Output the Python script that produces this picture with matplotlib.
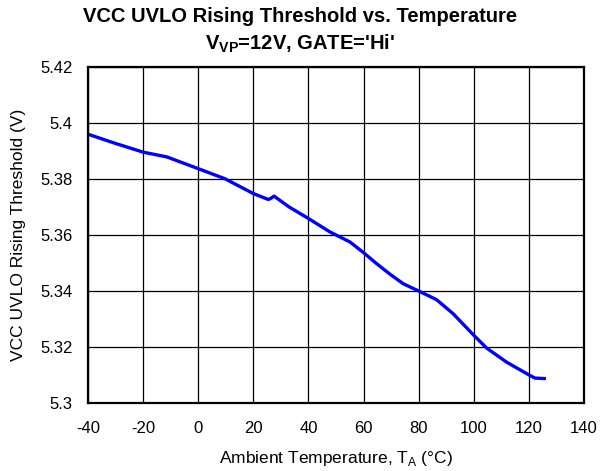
import numpy as np
import matplotlib.pyplot as plt

plt.rcParams['font.family'] = ['Liberation Sans', 'DejaVu Sans']
plt.rcParams['mathtext.fontset'] = 'custom'
plt.rcParams['mathtext.rm'] = 'Liberation Sans'
plt.rcParams['mathtext.bf'] = 'Liberation Sans:bold'
plt.rcParams['axes.unicode_minus'] = False

# UVLO rising threshold measured over temperature
temp_c = [-40, -30, -20, -11.4, 0, 9.7, 20, 25.4, 26.2, 27.5, 33, 40, 47.8,
          55.1, 60, 64.7, 69.6, 74.4, 80, 86.5, 92.5, 100, 104.7, 111.9,
          119.9, 122.2, 126.2]
threshold_v = [5.3960, 5.3927, 5.3896, 5.3879, 5.3837, 5.3801, 5.3748, 5.3727,
               5.3730, 5.3739, 5.3700, 5.3659, 5.3611, 5.3575, 5.3537, 5.3498,
               5.3460, 5.3426, 5.3400, 5.3369, 5.3319, 5.3242, 5.3196, 5.3146,
               5.3101, 5.3089, 5.3087]

x_ticks = np.arange(-40, 141, 20)
y_ticks = [5.30, 5.32, 5.34, 5.36, 5.38, 5.40, 5.42]
y_tick_labels = ['5.3', '5.32', '5.34', '5.36', '5.38', '5.4', '5.42']

fig = plt.figure(figsize=(6.0, 4.71), dpi=100)
ax = fig.add_axes([0.1467, 0.1444, 0.8266, 0.7133])

ax.plot(temp_c, threshold_v, color='#0000ff', linewidth=2.4,
        solid_capstyle='butt', solid_joinstyle='round')

ax.set_xlim(-40, 140)
ax.set_ylim(5.30, 5.42)
ax.set_xticks(x_ticks)
ax.set_yticks(y_ticks)
ax.set_yticklabels(y_tick_labels)
ax.tick_params(length=0, labelsize=12)
ax.tick_params(axis='x', pad=13)
ax.tick_params(axis='y', pad=11)
ax.grid(True, color='black', linewidth=0.9)
ax.set_axisbelow(True)
for sp in ax.spines.values():
    sp.set_linewidth(1.6)

ax.set_xlabel(r'Ambient Temperature, T$_{\mathrm{A}}$ ($\degree$C)', fontsize=12.5, labelpad=9)
ax.set_ylabel('VCC UVLO Rising Threshold (V)', fontsize=12.5, labelpad=10)

fig.text(0.5, 0.966, 'VCC UVLO Rising Threshold vs. Temperature',
         ha='center', va='center', fontsize=14.5, fontweight='bold')
fig.text(0.5, 0.907, r"$\mathbf{V_{VP}}$=12V, GATE='Hi'",
         ha='center', va='center', fontsize=14.5, fontweight='bold')

fig.savefig('out.png', dpi=100)
